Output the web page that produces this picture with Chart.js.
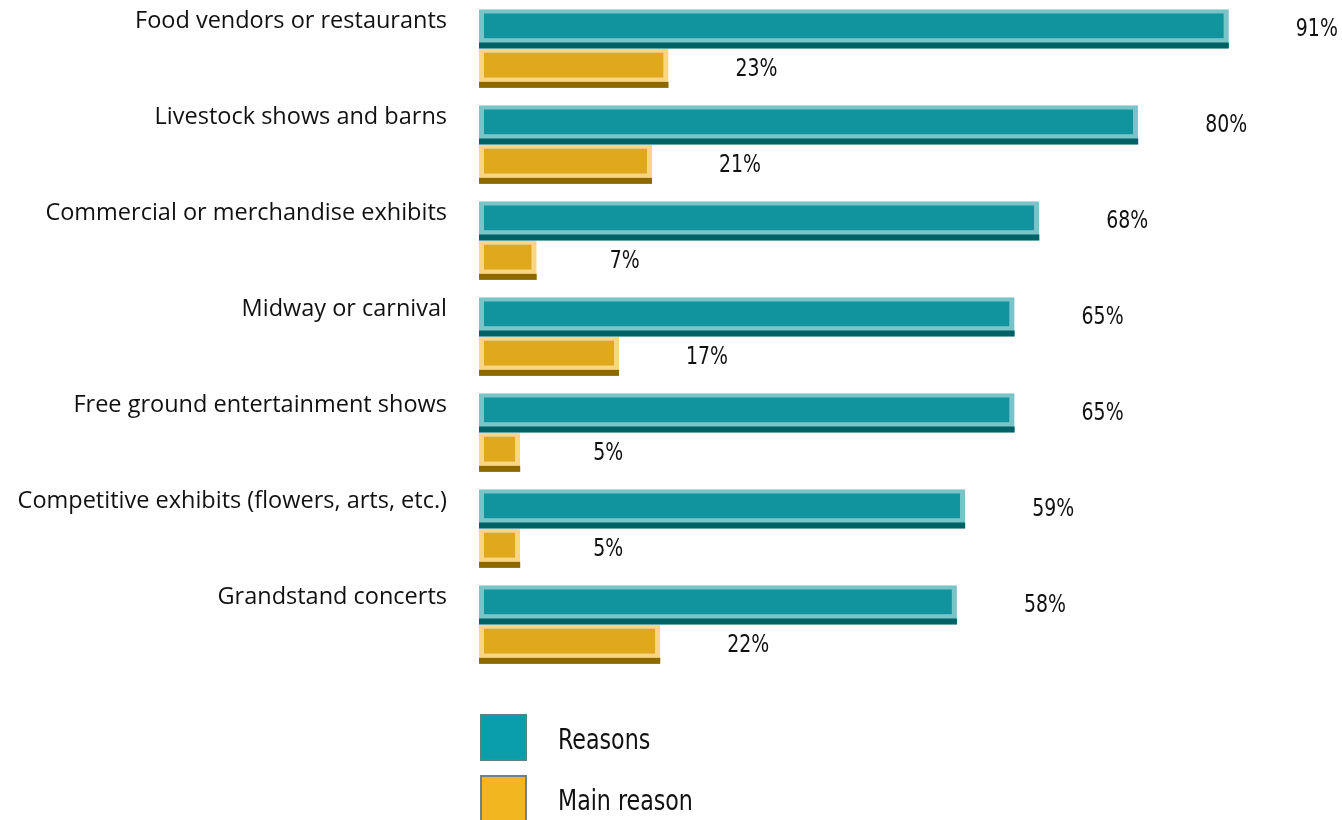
<!DOCTYPE html>
<html>
<head>
<meta charset="utf-8">
<script src="https://cdn.jsdelivr.net/npm/chart.js@4"></script>
<style>
  html, body { margin:0; padding:0; background:#fff; }
  #wrap { width:1342px; height:820px; position:relative; }
</style>
</head>
<body>
<div id="wrap"><canvas id="chart"></canvas></div>
<script>
// ── Data ──
const categories = [
  'Food vendors or restaurants',
  'Livestock shows and barns',
  'Commercial or merchandise exhibits',
  'Midway or carnival',
  'Free ground entertainment shows',
  'Competitive exhibits (flowers, arts, etc.)',
  'Grandstand concerts'
];
const reasons    = [91, 80, 68, 65, 65, 59, 58];
const mainReason = [23, 21, 7, 17, 5, 5, 22];
const seriesNames = ['Reasons', 'Main reason'];

// face / bevel / shadow / legend swatch per series
const STYLE = [
  { face:'#12949e', bevel:'#79c3c9', shadow:'#006166', swatch:'#0a9dab', edge:'#5d7f88' },
  { face:'#e0a81c', bevel:'#f8d684', shadow:'#8c6a00', swatch:'#f1b620', edge:'#6f8289' }
];

const NARROW = '"DejaVu Sans Condensed", "DejaVu Sans", sans-serif';

// squeezed text, to get close to the condensed face of the original
function narrowText(ctx, text, x, y, size, squeeze, align) {
  ctx.save();
  ctx.translate(x, y);
  ctx.scale(squeeze, 1);
  ctx.font = size + 'px ' + NARROW;
  ctx.textAlign = align;
  ctx.textBaseline = 'middle';
  ctx.fillText(text, 0, 0);
  ctx.restore();
}

// dark strip under each bar + value labels
const bevelPlugin = {
  id:'bevel',
  afterDatasetsDraw(chart) {
    const ctx = chart.ctx;
    ctx.save();
    chart.data.datasets.forEach((ds, i) => {
      const meta = chart.getDatasetMeta(i);
      meta.data.forEach((el, j) => {
        const bottom = el.y + el.height / 2;
        ctx.fillStyle = STYLE[i].shadow;
        ctx.fillRect(el.base, bottom - 6, el.x - el.base, 6);
        ctx.fillStyle = '#111';
        narrowText(ctx, ds.data[j] + '%', el.x + 88, el.y + 1, 25, 0.84, 'center');
      });
    });
    ctx.restore();
  }
};

// legend stacked under the plot
const legendPlugin = {
  id:'stackLegend',
  afterDraw(chart) {
    const ctx = chart.ctx;
    ctx.save();
    seriesNames.forEach((name, i) => {
      const y = 714 + i * 61;
      ctx.fillStyle = STYLE[i].swatch;
      ctx.fillRect(480, y, 47, 47);
      ctx.strokeStyle = STYLE[i].edge;
      ctx.lineWidth = 2;
      ctx.strokeRect(481, y + 1, 45, 45);
      ctx.fillStyle = '#111';
      narrowText(ctx, name, 558, y + 28, 28, 0.88, 'left');
    });
    ctx.restore();
  }
};

new Chart(document.getElementById('chart'), {
  type:'bar',
  data:{
    labels:categories,
    datasets:[reasons, mainReason].map((vals, i) => ({
      label:seriesNames[i],
      data:vals,
      backgroundColor:STYLE[i].face,
      borderColor:STYLE[i].bevel,
      borderWidth:{ top:4, left:5, right:5, bottom:10 },
      borderSkipped:false,
      categoryPercentage:0.82,
      barPercentage:1
    }))
  },
  options:{
    indexAxis:'y',
    responsive:true,
    maintainAspectRatio:false,
    animation:false,
    layout:{ padding:{ left:0, right:39, top:0.5, bottom:147.5 } },
    plugins:{ legend:{ display:false }, tooltip:{ enabled:false } },
    scales:{
      x:{ display:false, min:0, max:100 },
      y:{
        grid:{ display:false, drawTicks:false },
        border:{ display:false },
        afterFit(scale) {
          scale.width = 479;
          scale.paddingTop = 0;
          scale.paddingBottom = 0;
        },
        ticks:{
          color:'#111',
          padding:32,
          labelOffset:-27,
          font:{ family:'"Open Sans", "Noto Sans", sans-serif', size:23.5 }
        }
      }
    }
  },
  plugins:[bevelPlugin, legendPlugin]
});
</script>
</body>
</html>
